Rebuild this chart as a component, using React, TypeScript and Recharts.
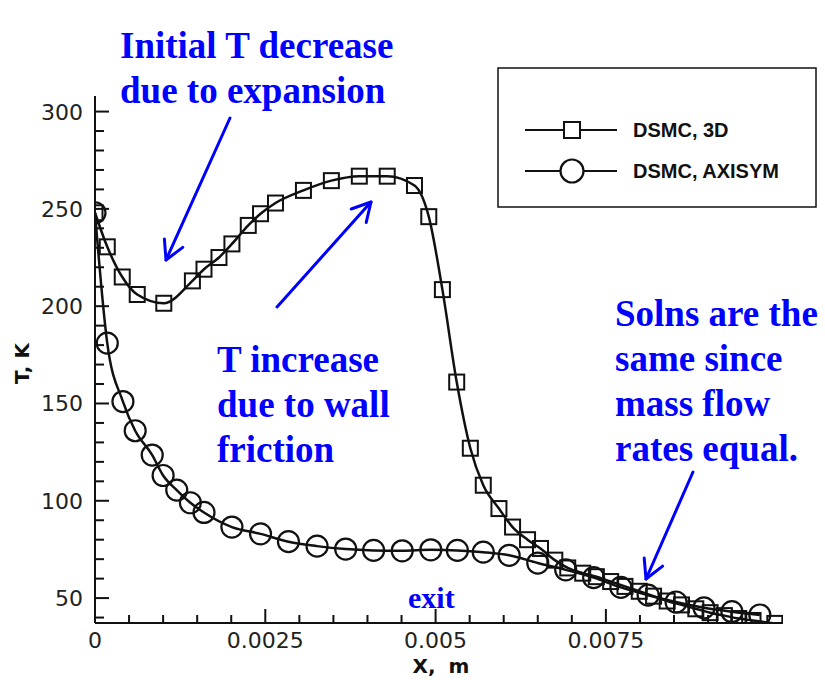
import { Line, LineChart, XAxis, YAxis } from "recharts";

// Centreline temperature along the nozzle, two DSMC runs.
const x3D = [
  0, 0.00018, 0.0004, 0.00062, 0.00101, 0.00143, 0.0016, 0.00182, 0.00201, 0.00225,
  0.00243, 0.00265, 0.00306, 0.00347, 0.00388, 0.00429, 0.00469, 0.0049, 0.0051,
  0.00531, 0.00551, 0.0057, 0.00593, 0.00613, 0.00635, 0.00654, 0.00675, 0.00694,
  0.00716, 0.00736, 0.00757, 0.00778, 0.00799, 0.0082, 0.0084, 0.00861, 0.00882,
  0.00903, 0.00924, 0.00945, 0.00966, 0.00998,
];
const t3D = [
  248, 230.5, 215, 206, 201.5, 213, 219, 225, 232, 241.5,
  247.5, 253, 259.5, 264.5, 266.8, 266.8, 262, 246, 208.5,
  161, 127, 108, 96, 86.5, 80, 75.5, 69.5, 65.5,
  62.8, 61, 58.5, 56, 53.5, 51, 48.5, 46.5, 44.5,
  42.5, 41, 39.5, 38.5, 37,
];

const xAxi = [
  0, 0.00018, 0.00041, 0.00059, 0.00084, 0.001, 0.0012, 0.0014, 0.0016, 0.00201,
  0.00243, 0.00284, 0.00326, 0.00368, 0.00409, 0.00451, 0.00493, 0.00532, 0.0057,
  0.00608, 0.0065, 0.00691, 0.00732, 0.00772, 0.00812, 0.00853, 0.00894, 0.00935,
  0.00976,
];
const tAxi = [
  248, 181, 151, 136, 123.5, 113, 105.5, 99, 94, 86.5,
  83, 79, 76.7, 75.2, 74.5, 74.3, 74.8, 74.5, 73.6,
  72, 68, 64.5, 60.5, 55.5, 51.5, 48, 45, 43,
  41.3,
];

const xMajor = [0, 0.0025, 0.005, 0.0075];
const xMinor = [
  0.0005, 0.001, 0.0015, 0.002, 0.003, 0.0035, 0.004, 0.0045, 0.0055, 0.006,
  0.0065, 0.007, 0.008, 0.0085, 0.009, 0.0095,
];
const yMajor = [50, 100, 150, 200, 250, 300];
const yMinor = [
  40, 60, 70, 80, 90, 110, 120, 130, 140, 160, 170, 180, 190, 210, 220, 230, 240,
  260, 270, 280, 290,
];

const series3D = x3D.map((x, i) => ({ x, T: t3D[i] }));
const seriesAxi = xAxi.map((x, i) => ({ x, T: tAxi[i] }));

const BLUE = "#0000ff";
const INK = "#111";
const tickFont = '"DejaVu Sans", sans-serif';
const noteFont = '"Liberation Serif", "Times New Roman", serif';

function SquareDot(props: any) {
  const { cx, cy, index } = props;
  if (cx == null || cy == null) return null;
  return (
    <rect
      key={`sq-${index}`}
      x={cx - 7.5}
      y={cy - 7.5}
      width={15}
      height={15}
      fill="none"
      stroke={INK}
      strokeWidth={2}
    />
  );
}

function CircleDot(props: any) {
  const { cx, cy, index } = props;
  if (cx == null || cy == null) return null;
  return <circle key={`ci-${index}`} cx={cx} cy={cy} r={10.5} fill="none" stroke={INK} strokeWidth={2.2} />;
}

// ticks point into the plot, majors longer and labelled
function YTick(props: any) {
  const { x, y, payload } = props;
  const major = yMajor.includes(payload.value);
  return (
    <g>
      <line x1={x} x2={x + (major ? 14 : 9)} y1={y} y2={y} stroke={INK} strokeWidth={2} />
      {major && (
        <text x={x - 12} y={y + 8} textAnchor="end" fontFamily={tickFont} fontSize={22} fill="#222">
          {payload.value}
        </text>
      )}
    </g>
  );
}

function XTick(props: any) {
  const { x, y, payload } = props;
  const major = xMajor.some((m) => Math.abs(m - payload.value) < 1e-9);
  return (
    <g>
      <line x1={x} x2={x} y1={y} y2={y - (major ? 14 : 8)} stroke={INK} strokeWidth={2} />
      {major && (
        <text x={x} y={y + 25} textAnchor="middle" fontFamily={tickFont} fontSize={22} fill="#222">
          {String(payload.value)}
        </text>
      )}
    </g>
  );
}

function Arrow({ from, to }: { from: [number, number]; to: [number, number] }) {
  const a = Math.atan2(to[1] - from[1], to[0] - from[0]);
  const L = 21;
  const spread = 0.5;
  const p1 = [to[0] - L * Math.cos(a - spread), to[1] - L * Math.sin(a - spread)];
  const p2 = [to[0] - L * Math.cos(a + spread), to[1] - L * Math.sin(a + spread)];
  return (
    <g stroke={BLUE} strokeWidth={3} fill="none" strokeLinecap="round" strokeLinejoin="round">
      <line x1={from[0]} y1={from[1]} x2={to[0]} y2={to[1]} />
      <polyline points={`${p1[0]},${p1[1]} ${to[0]},${to[1]} ${p2[0]},${p2[1]}`} />
    </g>
  );
}

function Note({ x, y, lines, size = 37 }: { x: number; y: number; lines: string[]; size?: number }) {
  return (
    <text fontFamily={noteFont} fontWeight="bold" fontSize={size} fill={BLUE}>
      {lines.map((s, i) => (
        <tspan key={i} x={x} y={y + i * 45}>
          {s}
        </tspan>
      ))}
    </text>
  );
}

export default function App() {
  return (
    <div style={{ position: "absolute", left: 0, top: 0, width: 825, height: 680, background: "#fff" }}>
      <LineChart width={825} height={680} margin={{ top: 96, right: 42, bottom: 27, left: 35 }}>
        <XAxis
          type="number"
          dataKey="x"
          domain={[0, 0.0101]}
          allowDataOverflow
          ticks={[...xMajor, ...xMinor].sort((a, b) => a - b)}
          interval={0}
          height={30}
          tickSize={0}
          tickMargin={0}
          tickLine={false}
          axisLine={{ stroke: INK, strokeWidth: 2 }}
          tick={(p: any) => <XTick {...p} />}
          label={(p: any) => {
            const vb = p.viewBox;
            return (
              <text
                x={vb.x + vb.width / 2 + 2}
                y={673}
                textAnchor="middle"
                fontFamily={tickFont}
                fontWeight="bold"
                fontSize={20}
                fill={INK}
                style={{ wordSpacing: 6 }}
              >
                X, m
              </text>
            );
          }}
        />
        <YAxis
          type="number"
          domain={[37.2, 308]}
          allowDataOverflow
          ticks={[...yMinor, ...yMajor].sort((a, b) => a - b)}
          interval={0}
          width={60}
          tickSize={0}
          tickMargin={0}
          tickLine={false}
          axisLine={{ stroke: INK, strokeWidth: 2 }}
          tick={(p: any) => <YTick {...p} />}
          label={(p: any) => {
            const vb = p.viewBox;
            const cy = vb.y + vb.height / 2 + 4;
            return (
              <text
                x={29}
                y={cy}
                transform={`rotate(-90 29 ${cy})`}
                textAnchor="middle"
                fontFamily={tickFont}
                fontWeight="bold"
                fontSize={20}
                fill={INK}
              >
                T, K
              </text>
            );
          }}
        />
        <Line
          data={series3D}
          dataKey="T"
          name="DSMC, 3D"
          type="monotone"
          stroke={INK}
          strokeWidth={2.5}
          dot={SquareDot}
          activeDot={false}
          isAnimationActive={false}
        />
        <Line
          data={seriesAxi}
          dataKey="T"
          name="DSMC, AXISYM"
          type="monotone"
          stroke={INK}
          strokeWidth={2.5}
          dot={CircleDot}
          activeDot={false}
          isAnimationActive={false}
        />
      </LineChart>

      <svg width={825} height={680} style={{ position: "absolute", left: 0, top: 0, pointerEvents: "none" }}>
        {/* legend */}
        <rect x={498} y={68} width={318} height={139} fill="#fff" stroke={INK} strokeWidth={1.5} />
        <line x1={525} x2={617} y1={130} y2={130} stroke={INK} strokeWidth={2} />
        <rect x={564} y={122} width={16} height={16} fill="#fff" stroke={INK} strokeWidth={2} />
        <text x={633} y={137} fontFamily='"Liberation Sans", Arial, sans-serif' fontWeight="bold" fontSize={20} fill={INK}>
          DSMC, 3D
        </text>
        <line x1={525} x2={617} y1={171} y2={171} stroke={INK} strokeWidth={2} />
        <circle cx={572} cy={171} r={11.5} fill="#fff" stroke={INK} strokeWidth={2.2} />
        <text x={633} y={178} fontFamily='"Liberation Sans", Arial, sans-serif' fontWeight="bold" fontSize={20} fill={INK}>
          DSMC, AXISYM
        </text>

        {/* annotations */}
        <Note x={120} y={58} lines={["Initial T decrease", "due to expansion"]} />
        <Note x={217} y={372} lines={["T increase", "due to wall", "friction"]} />
        <Note x={615} y={326} lines={["Solns are the", "same since", "mass flow", "rates equal."]} />
        <text x={408} y={608} fontFamily={noteFont} fontWeight="bold" fontSize={30} fill={BLUE}>
          exit
        </text>
        <Arrow from={[230, 118]} to={[166, 260]} />
        <Arrow from={[277, 307]} to={[371, 202]} />
        <Arrow from={[693, 472]} to={[646, 579]} />
      </svg>
    </div>
  );
}
